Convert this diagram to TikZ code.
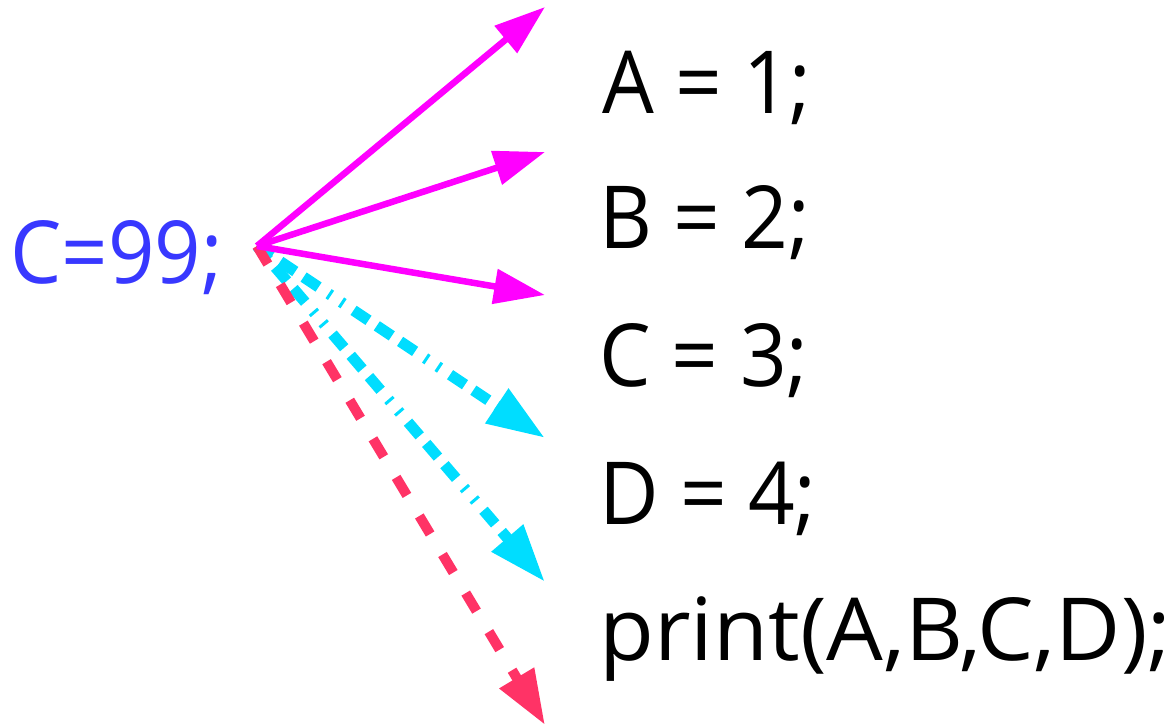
\documentclass[tikz,border=0pt]{standalone}
\usepackage{fontspec}
\setmainfont{Open Sans}
\usetikzlibrary{arrows.meta}
\definecolor{txtblue}{HTML}{3838FF}
\definecolor{mag}{HTML}{FF00FF}
\definecolor{cyn}{HTML}{00DDFF}
\definecolor{rd}{HTML}{FF3366}
\newcommand{\sqz}[2]{\scalebox{#1}[1]{#2}}
\tikzset{
  code/.style={inner sep=0pt, anchor=base west, font=\fontsize{87}{100}\selectfont},
  magarrow/.style={draw=mag, line width=6.5pt, -{Triangle[length=51pt,width=34pt]}},
  cynarrow/.style={draw=cyn, line width=11pt, -{Triangle[length=58pt,width=39pt]},
    dash pattern=on 18pt off 10pt on 18pt off 10pt on 18pt off 12pt on 3pt off 12pt on 3pt off 12pt},
  rdarrow/.style={draw=rd, line width=10pt, -{Triangle[length=55pt,width=38pt]},
    dash pattern=on 21pt off 24pt},
}
\begin{document}
\begin{tikzpicture}[x=1pt,y=-1pt]
\useasboundingbox (0,0) rectangle (1176,724);
\node[code, text=txtblue] (cv) at (10,283) {\sqz{0.935}{C=99;}};
\node[code] (a) at (602,113) {\sqz{0.94}{A = 1;}};
\node[code] (b) at (599,248) {\sqz{0.94}{B = 2;}};
\node[code] (c) at (599,386) {\sqz{0.94}{C = 3;}};
\node[code] (d) at (599,524) {\sqz{0.94}{D = 4;}};
\node[code] (p) at (599,660) {\sqz{1.03}{print(A,B,C,D);}};
\coordinate (o) at (257,246);
\coordinate (ta) at (545,7);
\coordinate (tb) at (545,152);
\coordinate (tc) at (545,295);
\coordinate (td) at (545,438);
\coordinate (te) at (545,582);
\coordinate (tp) at (545,725);
\draw[cynarrow] (o) -- (td);
\draw[cynarrow] (o) -- (te);
\draw[rdarrow] (o) -- (tp);
\draw[magarrow] (o) -- (ta);
\draw[magarrow] (o) -- (tb);
\draw[magarrow] (o) -- (tc);
\end{tikzpicture}
\end{document}
